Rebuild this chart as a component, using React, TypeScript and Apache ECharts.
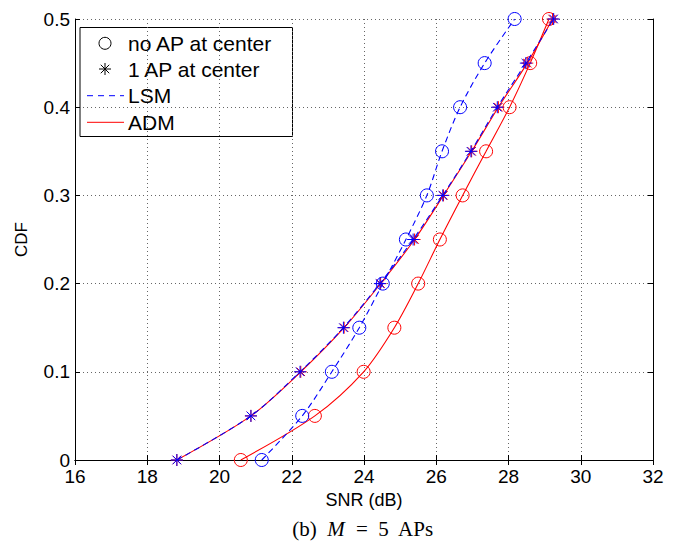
import React, { useEffect, useRef } from "react";
import * as echarts from "echarts";

const cdfLevels = [0, 0.05, 0.1, 0.15, 0.2, 0.25, 0.3, 0.35, 0.4, 0.45, 0.5];
const lsmNoAP = [21.17, 22.29, 23.11, 23.87, 24.52, 25.16, 25.74, 26.16, 26.66, 27.34, 28.17];
const lsmOneAP = [18.82, 20.87, 22.23, 23.43, 24.44, 25.36, 26.18, 26.96, 27.69, 28.48, 29.25];
const admNoAP = [20.59, 22.64, 23.99, 24.84, 25.5, 26.1, 26.73, 27.38, 28.03, 28.6, 29.12];
const admOneAP = [18.82, 20.87, 22.25, 23.45, 24.46, 25.4, 26.2, 26.98, 27.72, 28.52, 29.22];

const xTicks = [16, 18, 20, 22, 24, 26, 28, 30, 32];
const yTicks = [0, 0.1, 0.2, 0.3, 0.4, 0.5];

const BLUE = "#0000ff";
const RED = "#ff0000";
const SANS = "'Liberation Sans', Arial, Helvetica, sans-serif";
const SERIF = "'Liberation Serif', 'DejaVu Serif', serif";

const ASTERISK =
  "path://M6 0L6 12M0 6L12 6M1.76 1.76L10.24 10.24M1.76 10.24L10.24 1.76";

function pairs(xs: number[]) {
  return xs.map((x, i) => [x, cdfLevels[i]]);
}

function makeSeries(
  name: string,
  xs: number[],
  color: string,
  dashed: boolean,
  symbol: string,
  size: number,
  z: number
) {
  return {
    name,
    type: "line",
    data: pairs(xs),
    smooth: 0.3,
    showAllSymbol: true,
    symbol,
    symbolSize: size,
    z,
    lineStyle: {
      color,
      width: 1.1,
      type: dashed ? [6, 4] : "solid",
    },
    itemStyle: {
      color: "rgba(0,0,0,0)",
      borderColor: color,
      borderWidth: 1,
    },
    emphasis: { disabled: true },
  };
}

export default function App() {
  const ref = useRef<HTMLDivElement>(null);

  useEffect(() => {
    if (!ref.current) return;
    const chart = echarts.init(ref.current, undefined, { renderer: "svg" });

    const tickStyle = { show: true, inside: true, length: 5, lineStyle: { color: "#000", width: 1 } };
    const axisLine = { show: true, lineStyle: { color: "#000", width: 1 } };

    const legendX = 80;
    const legendY = 27.5;
    const rowY = [43.3, 69, 95.7, 122.3];
    const iconL = 87;
    const iconR = 124;
    const iconC = 105;
    const textX = 128;
    const astR = 6;
    const d = astR * 0.707;

    chart.setOption({
      animation: false,
      backgroundColor: "#ffffff",
      grid: { left: 75, top: 19, width: 578, height: 441, containLabel: false },
      xAxis: [
        {
          type: "value",
          min: xTicks[0],
          max: xTicks[xTicks.length - 1],
          interval: 2,
          position: "bottom",
          name: "SNR (dB)",
          nameLocation: "middle",
          nameGap: 28,
          nameTextStyle: { fontFamily: SANS, fontSize: 18, color: "#000" },
          axisLine,
          axisTick: tickStyle,
          axisLabel: { fontFamily: SANS, fontSize: 19, color: "#000", margin: 7 },
          splitLine: { show: true, lineStyle: { color: "#666", type: [1, 3], width: 1 } },
        },
        {
          type: "value",
          min: xTicks[0],
          max: xTicks[xTicks.length - 1],
          interval: 2,
          position: "top",
          axisLine,
          axisTick: tickStyle,
          axisLabel: { show: false },
          splitLine: { show: false },
        },
      ],
      yAxis: [
        {
          type: "value",
          min: yTicks[0],
          max: yTicks[yTicks.length - 1],
          interval: 0.1,
          position: "left",
          name: "CDF",
          nameLocation: "middle",
          nameGap: 45,
          nameRotate: 90,
          nameTextStyle: { fontFamily: SANS, fontSize: 17, color: "#000" },
          axisLine,
          axisTick: tickStyle,
          axisLabel: {
            fontFamily: SANS,
            fontSize: 19,
            color: "#000",
            margin: 5,
            formatter: (v: number) => (v === 0 ? "0" : v.toFixed(1)),
          },
          splitLine: { show: true, lineStyle: { color: "#666", type: [1, 3], width: 1 } },
        },
        {
          type: "value",
          min: yTicks[0],
          max: yTicks[yTicks.length - 1],
          interval: 0.1,
          position: "right",
          axisLine,
          axisTick: tickStyle,
          axisLabel: { show: false },
          splitLine: { show: false },
        },
      ],
      series: [
        makeSeries("ADM, no AP at center", admNoAP, RED, false, "circle", 13, 2),
        makeSeries("ADM, 1 AP at center", admOneAP, RED, false, ASTERISK, 12, 3),
        makeSeries("LSM, no AP at center", lsmNoAP, BLUE, true, "circle", 13, 4),
        makeSeries("LSM, 1 AP at center", lsmOneAP, BLUE, true, ASTERISK, 12, 5),
      ],
      graphic: [
        {
          type: "group",
          z: 100,
          children: [
            {
              type: "rect",
              shape: { x: legendX, y: legendY, width: 212.5, height: 109 },
              style: { fill: "#fff", stroke: "#000", lineWidth: 1 },
            },
            {
              type: "circle",
              shape: { cx: iconC, cy: rowY[0], r: 6 },
              style: { fill: "none", stroke: "#000", lineWidth: 1 },
            },
            { type: "line", shape: { x1: iconC, y1: rowY[1] - astR, x2: iconC, y2: rowY[1] + astR }, style: { stroke: "#000", lineWidth: 1 } },
            { type: "line", shape: { x1: iconC - astR, y1: rowY[1], x2: iconC + astR, y2: rowY[1] }, style: { stroke: "#000", lineWidth: 1 } },
            { type: "line", shape: { x1: iconC - d, y1: rowY[1] - d, x2: iconC + d, y2: rowY[1] + d }, style: { stroke: "#000", lineWidth: 1 } },
            { type: "line", shape: { x1: iconC - d, y1: rowY[1] + d, x2: iconC + d, y2: rowY[1] - d }, style: { stroke: "#000", lineWidth: 1 } },
            {
              type: "line",
              shape: { x1: iconL, y1: rowY[2], x2: iconR, y2: rowY[2] },
              style: { stroke: BLUE, lineWidth: 1, lineDash: [6, 5] },
            },
            {
              type: "line",
              shape: { x1: iconL, y1: rowY[3], x2: iconR, y2: rowY[3] },
              style: { stroke: RED, lineWidth: 1 },
            },
            ...["no AP at center", "1 AP at center", "LSM", "ADM"].map((t, i) => ({
              type: "text",
              style: {
                x: textX,
                y: rowY[i],
                text: t,
                fontFamily: SANS,
                fontSize: 21,
                fill: "#000",
                verticalAlign: "middle",
                align: "left",
              },
            })),
          ],
        },
        {
          type: "text",
          z: 100,
          style: {
            x: 363,
            y: 529,
            text: "(b)  {i|M}  =  5  APs",
            fontFamily: SERIF,
            fontSize: 21,
            fill: "#000",
            align: "center",
            verticalAlign: "middle",
            rich: {
              i: { fontFamily: SERIF, fontSize: 21, fontStyle: "italic", fill: "#000" },
            },
          },
        },
      ],
    });

    return () => chart.dispose();
  }, []);

  return (
    <div
      ref={ref}
      style={{ position: "absolute", left: 0, top: 0, width: 680, height: 544 }}
    />
  );
}
